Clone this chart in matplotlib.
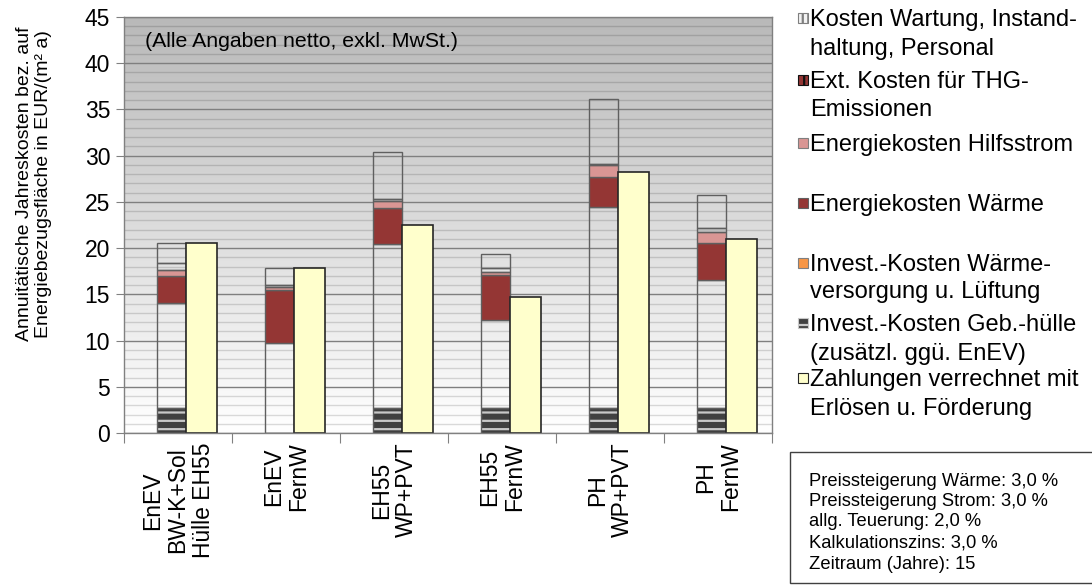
import matplotlib
matplotlib.use("Agg")
import matplotlib.pyplot as plt
from matplotlib.colors import LinearSegmentedColormap
from matplotlib.patches import Rectangle
import numpy as np

plt.rcParams["font.family"] = ["Liberation Sans", "DejaVu Sans"]
plt.rcParams["hatch.linewidth"] = 1.6

# Varianten (Gebäudestandard / Wärmeversorgung)
categories = [
    "EnEV\nBW-K+Sol\nHülle EH55",
    "EnEV\nFernW",
    "EH55\nWP+PVT",
    "EH55\nFernW",
    "PH\nWP+PVT",
    "PH\nFernW",
]

# Annuitätische Kosten in EUR/(m² a), gestapelt von unten nach oben
invest_huelle = [2.7, 0.0, 2.7, 2.7, 2.7, 2.7]
invest_waerme = [11.4, 9.77, 17.7, 9.5, 21.8, 13.8]
energie_waerme = [2.85, 5.7, 3.98, 4.9, 3.2, 4.05]
energie_hilfsstrom = [0.65, 0.3, 0.7, 0.35, 1.26, 1.15]
ext_thg = [0.75, 0.23, 0.2, 0.35, 0.14, 0.5]
wartung = [2.25, 1.8, 5.1, 1.6, 7.0, 3.5]
# Zahlungen verrechnet mit Erlösen u. Förderung
zahlungen = [20.6, 17.8, 22.5, 14.7, 28.2, 21.0]

legend_labels = [
    "Kosten Wartung, Instand-\nhaltung, Personal",
    "Ext. Kosten für THG-\nEmissionen",
    "Energiekosten Hilfsstrom",
    "Energiekosten Wärme",
    "Invest.-Kosten Wärme-\nversorgung u. Lüftung",
    "Invest.-Kosten Geb.-hülle\n(zusätzl. ggü. EnEV)",
    "Zahlungen verrechnet mit\nErlösen u. Förderung",
]

info_lines = [
    "Preissteigerung Wärme: 3,0 %",
    "Preissteigerung Strom: 3,0 %",
    "allg. Teuerung: 2,0 %",
    "Kalkulationszins: 3,0 %",
    "Zeitraum (Jahre): 15",
]

RED = "#943634"
PINK = "#d99694"
YELLOW = "#ffffcc"
ORANGE = "#f79646"
DARK = "#404040"
EDGE = "#5f5f5f"

W, H = 1092, 585
fig = plt.figure(figsize=(W / 100, H / 100), dpi=100)
ax = fig.add_axes([124 / W, 1 - 433 / H, (772 - 124) / W, (433 - 17) / H])


def fx(px):
    return px / W


def fy(py):
    return 1 - py / H


x = np.arange(len(categories))
ax.set_xlim(-0.5, len(categories) - 0.5)
ax.set_ylim(0, 45)

# background: grey at the top fading to white
grad = np.linspace(0, 1, 256).reshape(-1, 1)
cmap = LinearSegmentedColormap.from_list("bg", ["#ffffff", "#b9b9b9"])
ax.imshow(grad, cmap=cmap, origin="lower", aspect="auto",
          extent=[-0.5, len(categories) - 0.5, 0, 45], zorder=0)

ax.set_yticks(np.arange(0, 46, 5))
ax.set_yticks(np.arange(0, 46, 1), minor=True)
ax.yaxis.grid(True, which="major", color="#7f7f7f", lw=1.0, zorder=1)
ax.yaxis.grid(True, which="minor", color="black", alpha=0.14, lw=1.0, zorder=1)
ax.set_axisbelow(True)

sw, yw = 0.271, 0.284
sx = x - 0.197
yx = x + 0.074

bottom = np.zeros(len(categories))
# invest. Gebäudehülle: dark with light horizontal stripes
ax.bar(sx, invest_huelle, sw, bottom=bottom, align="edge", color=DARK,
       edgecolor="#c8c8c8", hatch="--", lw=0, zorder=2)
ax.bar(sx, invest_huelle, sw, bottom=bottom, align="edge", fill=False,
       edgecolor=EDGE, lw=1.0, zorder=3)
bottom += invest_huelle

for vals, face in [(invest_waerme, "none"), (energie_waerme, RED),
                   (energie_hilfsstrom, PINK), (ext_thg, "none"),
                   (wartung, "none")]:
    ax.bar(sx, vals, sw, bottom=bottom, align="edge", color=face,
           edgecolor=EDGE, lw=1.0, zorder=3)
    bottom += vals

ax.bar(yx, zahlungen, yw, align="edge", color=YELLOW, edgecolor="#262626",
       lw=1.2, zorder=4)

# axes styling
for s in ax.spines.values():
    s.set_color("#808080")
    s.set_linewidth(1.0)
    s.set_zorder(5)
ax.tick_params(axis="y", which="major", length=6, color="#808080",
               labelsize=16.5, pad=4)
ax.tick_params(axis="y", which="minor", length=0)
ax.set_xticks(np.arange(-0.5, len(categories), 1.0))
ax.set_xticklabels([])
ax.tick_params(axis="x", which="major", length=7, color="#808080")
ax.set_xticks(x, minor=True)
ax.set_xticklabels(categories, minor=True, rotation=90, va="top",
                   ha="center", multialignment="center", fontsize=16.5,
                   linespacing=1.15)
ax.tick_params(axis="x", which="minor", length=0, pad=7)

fig.text(fx(34), fy(184), "Annuitätische Jahreskosten bez. auf\n"
         "Energiebezugsfläche in EUR/(m² a)", rotation=90, ha="center",
         va="center", multialignment="center", fontsize=14, linespacing=1.1)

fig.text(fx(145), fy(47), "(Alle Angaben netto, exkl. MwSt.)", fontsize=15.3,
         va="baseline", ha="left")

# legend drawn by hand
leg_rows = [[18, 47], [80, 108], [143], [203], [263, 290], [323, 352],
            [378, 407]]
marker_styles = [
    dict(facecolor="#f2f2f2", edgecolor="#7f7f7f", hatch="|||"),
    dict(facecolor=RED, edgecolor="#111111", hatch="||"),
    dict(facecolor=PINK, edgecolor="#7f7f7f"),
    dict(facecolor=RED, edgecolor="#5f5f5f"),
    dict(facecolor=ORANGE, edgecolor="#7f7f7f"),
    dict(facecolor=DARK, edgecolor="#c8c8c8", hatch="-"),
    dict(facecolor=YELLOW, edgecolor="#262626"),
]
for label, rows, style in zip(legend_labels, leg_rows, marker_styles):
    fig.patches.append(Rectangle((fx(798), fy(rows[0] + 5)), 10 / W, 10 / H,
                                 transform=fig.transFigure, lw=0.8, **style))
    for line, yc in zip(label.split("\n"), rows):
        fig.text(fx(810), fy(yc + 8), line, fontsize=17, va="baseline",
                 ha="left")

# parameter box
fig.patches.append(Rectangle((fx(790), fy(583)), (W + 10 - 790) / W,
                             (583 - 452) / H, transform=fig.transFigure,
                             facecolor="white", edgecolor="#404040", lw=1.0))
for line, yc in zip(info_lines, [480, 500, 520, 541, 563]):
    fig.text(fx(809), fy(yc + 6), line, fontsize=13.2, va="baseline", ha="left")

fig.savefig("out.png", dpi=100)
